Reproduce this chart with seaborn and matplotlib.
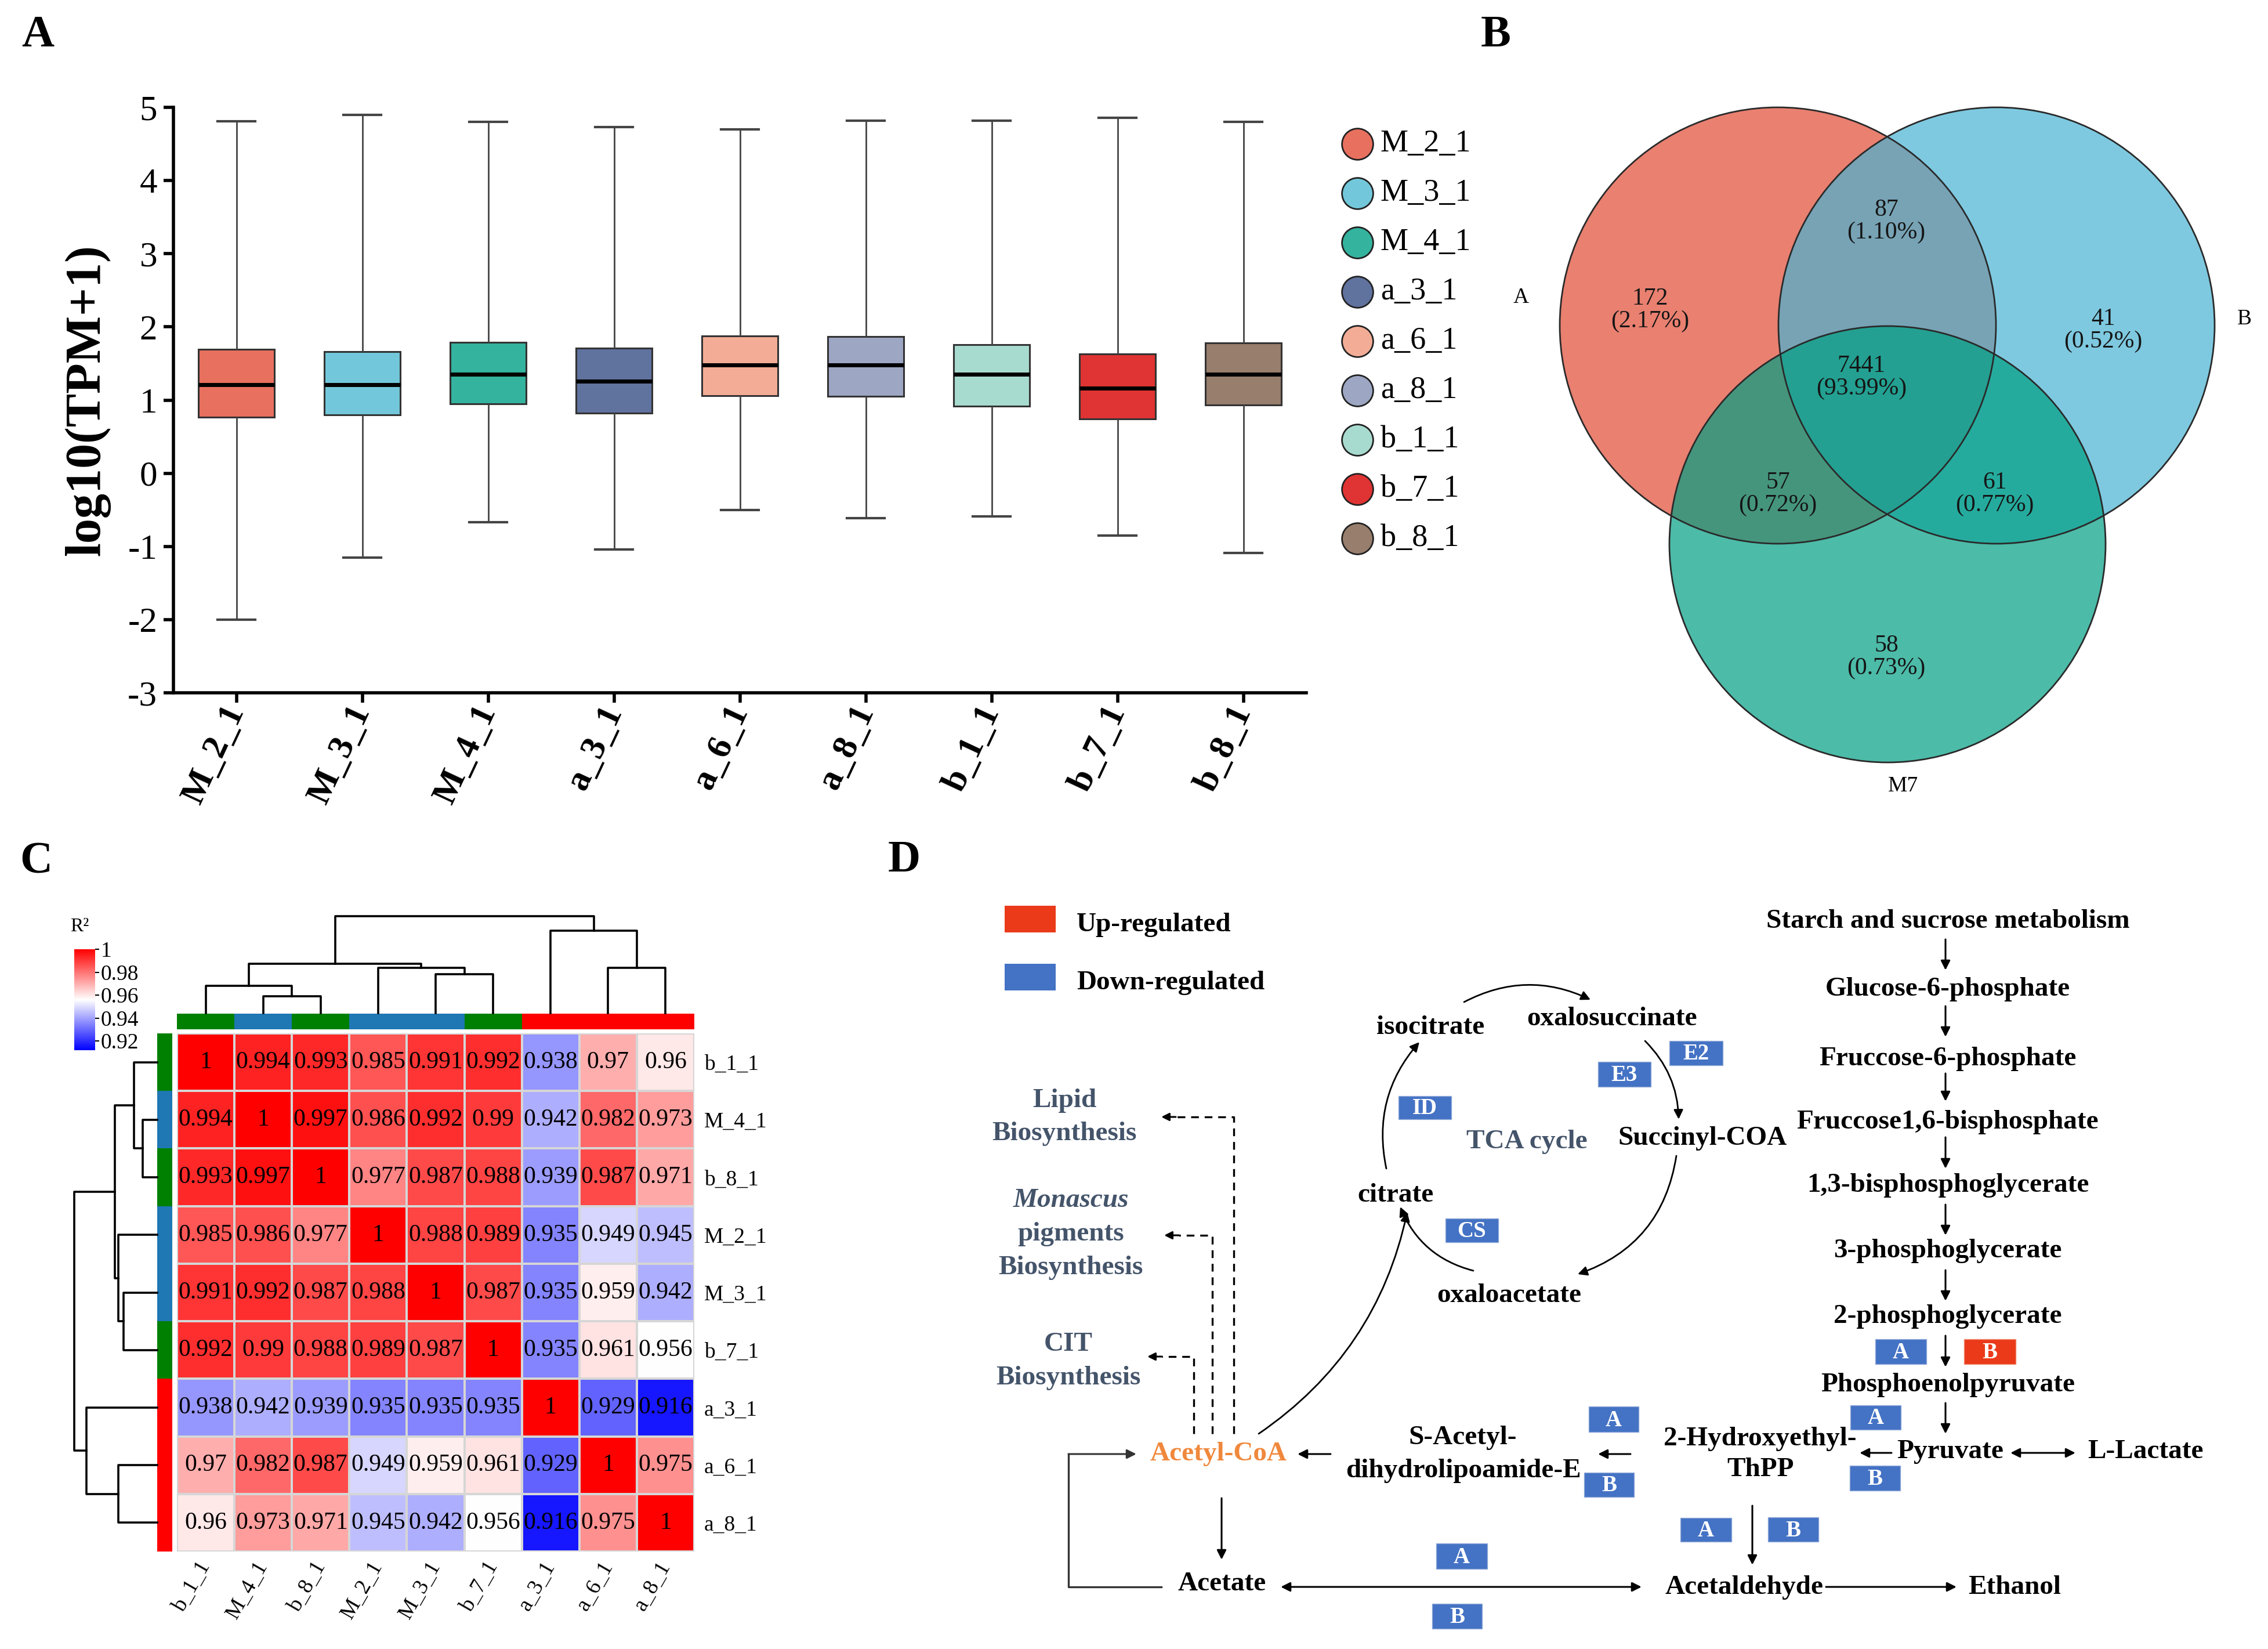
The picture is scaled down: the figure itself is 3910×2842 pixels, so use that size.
import numpy as np
import pandas as pd
import matplotlib
matplotlib.use('Agg')
import matplotlib.pyplot as plt
import seaborn as sns
from matplotlib.patches import Circle, Rectangle
from matplotlib.colors import LinearSegmentedColormap, ListedColormap, to_rgba

# ------------------------------------------------------------------ data
# Panel A : box summaries of log10(TPM+1)
samples = ['M_2_1', 'M_3_1', 'M_4_1', 'a_3_1', 'a_6_1', 'a_8_1', 'b_1_1', 'b_7_1', 'b_8_1']
box_min = [-2.00, -1.15, -0.67, -1.04, -0.50, -0.61, -0.59, -0.85, -1.09]
box_q1 = [0.77, 0.80, 0.95, 0.82, 1.06, 1.05, 0.92, 0.74, 0.93]
box_med = [1.21, 1.21, 1.35, 1.26, 1.48, 1.48, 1.35, 1.16, 1.35]
box_q3 = [1.69, 1.66, 1.79, 1.71, 1.88, 1.87, 1.76, 1.63, 1.78]
box_max = [4.81, 4.90, 4.80, 4.73, 4.70, 4.82, 4.82, 4.86, 4.80]
box_colors = ['#E8705E', '#72C8DA', '#34B39E', '#60729E', '#F3AD97',
              '#9DA7C4', '#A8DBCF', '#E03333', '#987E6C']

# Panel B : Venn counts
venn_sets = ['A', 'B', 'M7']
venn_regions = ['100', '110', '010', '111', '101', '011', '001']
venn_counts = [172, 87, 41, 7441, 57, 61, 58]
venn_colors = ['#E14A33', '#47B3D3', '#009F83']

# Panel C : R^2 correlation matrix (clustered order)
corr_order = ['b_1_1', 'M_4_1', 'b_8_1', 'M_2_1', 'M_3_1', 'b_7_1', 'a_3_1', 'a_6_1', 'a_8_1']
corr_group = ['b', 'M', 'b', 'M', 'M', 'b', 'a', 'a', 'a']
group_names = ['M', 'a', 'b']
group_colors = ['#1F77B4', '#FF0000', '#008000']
r2_values = [
    [1, 0.994, 0.993, 0.985, 0.991, 0.992, 0.938, 0.97, 0.96],
    [0.994, 1, 0.997, 0.986, 0.992, 0.99, 0.942, 0.982, 0.973],
    [0.993, 0.997, 1, 0.977, 0.987, 0.988, 0.939, 0.987, 0.971],
    [0.985, 0.986, 0.977, 1, 0.988, 0.989, 0.935, 0.949, 0.945],
    [0.991, 0.992, 0.987, 0.988, 1, 0.987, 0.935, 0.959, 0.942],
    [0.992, 0.99, 0.988, 0.989, 0.987, 1, 0.935, 0.961, 0.956],
    [0.938, 0.942, 0.939, 0.935, 0.935, 0.935, 1, 0.929, 0.916],
    [0.97, 0.982, 0.987, 0.949, 0.959, 0.961, 0.929, 1, 0.975],
    [0.96, 0.973, 0.971, 0.945, 0.942, 0.956, 0.916, 0.975, 1],
]
# linkage: (child_a, child_b, relative height); nodes >= 9 are earlier merges
linkage = [(1, 2, 0.176), (0, 9, 0.282), (4, 5, 0.404), (3, 11, 0.468),
           (10, 12, 0.511), (7, 8, 0.468), (6, 14, 0.851), (13, 15, 1.0)]
cbar_ticks = [0.92, 0.94, 0.96, 0.98, 1.0]
cbar_ticklabels = ['0.92', '0.94', '0.96', '0.98', '1']

# ------------------------------------------------------------------ setup
W, H, DPI = 3910, 2842, 100
plt.rcParams['font.family'] = ['Liberation Serif', 'DejaVu Serif']
plt.rcParams['axes.unicode_minus'] = False
fig = plt.figure(figsize=(W / DPI, H / DPI), dpi=DPI)


def add_ax(x0, y0, x1, y1):
    return fig.add_axes([x0 / W, 1 - y1 / H, (x1 - x0) / W, (y1 - y0) / H])


# ------------------------------------------------------------------ Panel A
axA = add_ax(299, 185, 2252, 1194)
rows = []
for s, a, b, c, d, e in zip(samples, box_min, box_q1, box_med, box_q3, box_max):
    for v in (a, b, c, d, e):
        rows.append((s, v))
dfA = pd.DataFrame(rows, columns=['sample', 'value'])
sns.boxplot(data=dfA, x='sample', y='value', hue='sample', order=samples,
            hue_order=samples, palette=box_colors, saturation=1, width=0.6,
            whis=(0, 100), linecolor='#333333', linewidth=2.2,
            medianprops=dict(color='black', linewidth=5),
            whiskerprops=dict(color='#444444', linewidth=2),
            capprops=dict(color='#444444', linewidth=3),
            legend=False, ax=axA)
axA.set_xlim(-0.5, 8.5)
axA.set_ylim(-3, 5)
axA.set_yticks(range(-3, 6))
axA.set_xlabel('')
axA.set_ylabel('log10(TPM+1)', fontsize=62, fontweight='bold')
axA.yaxis.set_label_coords(-(299 - 190) / 1953, 0.5)
for sp in ['top', 'right']:
    axA.spines[sp].set_visible(False)
for sp in ['left', 'bottom']:
    axA.spines[sp].set_linewidth(4)
axA.tick_params(axis='y', labelsize=44, width=4, length=12, pad=8)
axA.tick_params(axis='x', labelsize=44, width=4, length=12, pad=6)
for t in axA.get_xticklabels():
    t.set_rotation(65)
    t.set_ha('right')
    t.set_va('center')
    t.set_rotation_mode('anchor')
    t.set_fontweight('bold')

# ------------------------------------------------------------------ Panel C
df_r2 = pd.DataFrame(r2_values, index=corr_order, columns=corr_order)
cmap_r2 = LinearSegmentedColormap.from_list('r2', ['#0000FF', '#FFFFFF', '#FF0000'])
axH = add_ax(305, 1781, 1197, 2674)
axCB = add_ax(128, 1636, 164, 1810)
sns.heatmap(df_r2, ax=axH, cmap=cmap_r2, vmin=0.912, vmax=1.0, annot=True, fmt='g',
            annot_kws={'size': 30, 'color': 'black'}, linewidths=1.5,
            linecolor='#d6d6d6', cbar_ax=axCB, cbar_kws={'ticks': cbar_ticks})
cb = axH.collections[0].colorbar
cb.ax.set_yticklabels(cbar_ticklabels)
cb.outline.set_visible(False)
cb.ax.tick_params(labelsize=27, length=5, width=1.5, pad=2)
axH.yaxis.tick_right()
axH.set_yticklabels(corr_order, rotation=0)
axH.set_xticklabels(corr_order)
axH.tick_params(axis='both', length=0, labelsize=27)
axH.tick_params(axis='y', pad=12)
axH.tick_params(axis='x', pad=14)
for t in axH.get_xticklabels():
    t.set_rotation(60)
    t.set_ha('right')
    t.set_va('center')
    t.set_rotation_mode('anchor')
axH.set_xlabel('')
axH.set_ylabel('')

codes = [group_names.index(g) for g in corr_group]
gcmap = ListedColormap(group_colors)
axColBar = add_ax(305, 1747, 1197, 1774)
sns.heatmap(np.array([codes]), ax=axColBar, cmap=gcmap, vmin=-0.5, vmax=2.5,
            cbar=False, xticklabels=False, yticklabels=False)
axRowBar = add_ax(271, 1781, 297, 2674)
sns.heatmap(np.array(codes).reshape(-1, 1), ax=axRowBar, cmap=gcmap, vmin=-0.5,
            vmax=2.5, cbar=False, xticklabels=False, yticklabels=False)


def draw_dendro(ax, link, n, orient):
    pos = {i: i + 0.5 for i in range(n)}
    hgt = {i: 0.0 for i in range(n)}
    for k, (a, b, h) in enumerate(link):
        xs = [pos[a], pos[a], pos[b], pos[b]]
        ys = [hgt[a], h, h, hgt[b]]
        if orient == 'top':
            ax.plot(xs, ys, color='black', lw=2.6, clip_on=False)
        else:
            ax.plot(ys, xs, color='black', lw=2.6, clip_on=False)
        pos[n + k] = (pos[a] + pos[b]) / 2
        hgt[n + k] = h


axDT = add_ax(305, 1579, 1197, 1746)
draw_dendro(axDT, linkage, len(corr_order), 'top')
axDT.set_xlim(0, 9)
axDT.set_ylim(0, 1)
axDT.axis('off')
axDL = add_ax(128, 1781, 271, 2674)
draw_dendro(axDL, linkage, len(corr_order), 'left')
axDL.set_xlim(1, 0)
axDL.set_ylim(9, 0)
axDL.axis('off')

# ------------------------------------------------------------------ overlay
ov = fig.add_axes([0, 0, 1, 1])
ov.set_xlim(0, W)
ov.set_ylim(H, 0)
ov.axis('off')

# panel letters
for lab, (x, y) in zip(['A', 'B', 'C', 'D'], [(65, 62), (2579, 62), (62, 1486), (1559, 1484)]):
    ov.text(x, y, lab, fontsize=56, fontweight='bold', ha='center', va='center')

# legend of panel A
for i, (s, c) in enumerate(zip(samples, box_colors)):
    yy = 248 + 85 * i
    ov.scatter([2340], [yy], s=1500, color=c, edgecolor='#222222', linewidth=2, zorder=3)
    ov.text(2380, yy, s, fontsize=39, ha='left', va='center')

ov.text(137, 1597, 'R²', fontsize=24, ha='center', va='center')

# ------------------------------------------------------------------ Panel B (Venn)
venn_centers = [(3065, 561), (3442, 561), (3254, 938)]
venn_r = 376
for (cx, cy), c in zip(venn_centers, venn_colors):
    ov.add_patch(Circle((cx, cy), venn_r, facecolor=to_rgba(c, 0.7), edgecolor='none'))
for (cx, cy) in venn_centers:
    ov.add_patch(Circle((cx, cy), venn_r, facecolor='none', edgecolor='#2a2a2a', lw=2))
region_pos = {'100': (2845, 534), '110': (3252, 381), '010': (3626, 569),
              '111': (3209, 650), '101': (3065, 851), '011': (3439, 851),
              '001': (3252, 1132)}
total = sum(venn_counts)
for reg, cnt in zip(venn_regions, venn_counts):
    x, y = region_pos[reg]
    ov.text(x, y, f'{cnt}\n({100 * cnt / total:.2f}%)', fontsize=30, ha='center',
            va='center', linespacing=1.0, color='#151515')
for lab, (x, y) in zip(venn_sets, [(2622, 513), (3869, 550), (3281, 1355)]):
    ov.text(x, y, lab, fontsize=27, ha='center', va='center')

# ------------------------------------------------------------------ Panel D
BLUE = '#4472C4'
REDB = '#EA3A1A'
SLATE = '#44546A'
ORANGE = '#F0883C'
FS = 34


def txt(x, y, s, color='black', style='normal', size=FS):
    ov.text(x, y, s, fontsize=size, fontweight='bold', ha='center', va='center',
            color=color, fontstyle=style)


def box(x0, y0, x1, y1, s, color=BLUE):
    ov.add_patch(Rectangle((x0, y0), x1 - x0, y1 - y0, facecolor=color,
                           edgecolor='#8fa9d8' if color == BLUE else '#f08a70', lw=1))
    ov.text((x0 + x1) / 2, (y0 + y1) / 2 + 2, s, fontsize=28, fontweight='bold',
            color='white', ha='center', va='center')


def arrow(p0, p1, style='-|>', rad=0.0, lw=2.2, color='black', ms=24):
    ov.annotate('', xy=p1, xytext=p0,
                arrowprops=dict(arrowstyle=style, color=color, lw=lw, mutation_scale=ms,
                                shrinkA=0, shrinkB=0,
                                connectionstyle=f'arc3,rad={rad}'))


# legend
ov.add_patch(Rectangle((1732, 1561), 88, 46, facecolor=REDB, edgecolor='none'))
ov.add_patch(Rectangle((1732, 1661), 88, 46, facecolor=BLUE, edgecolor='none'))
ov.text(1856, 1594, 'Up-regulated', fontsize=FS, fontweight='bold', ha='left', va='center')
ov.text(1856, 1694, 'Down-regulated', fontsize=FS, fontweight='bold', ha='left', va='center')

# glycolysis column
gly = [('Starch and sucrose metabolism', 1588), ('Glucose-6-phosphate', 1705),
       ('Fruccose-6-phosphate', 1825), ('Fruccose1,6-bisphosphate', 1934),
       ('1,3-bisphosphoglycerate', 2043), ('3-phosphoglycerate', 2156),
       ('2-phosphoglycerate', 2269), ('Phosphoenolpyruvate', 2387)]
for s, y in gly:
    txt(3358, y, s)
for y0, y1 in [(1619, 1672), (1734, 1787), (1850, 1898), (1960, 2014), (2076, 2129),
               (2189, 2242), (2302, 2356), (2418, 2471)]:
    arrow((3354, y0), (3354, y1))
box(3233, 2308, 3321, 2351, 'A')
box(3386, 2308, 3475, 2351, 'B', REDB)
box(3190, 2422, 3277, 2464, 'A')

txt(3362, 2502, 'Pyruvate')
txt(3699, 2502, 'L-Lactate')
arrow((3466, 2504), (3578, 2504), style='<|-|>')
arrow((3261, 2504), (3206, 2504))
box(3189, 2526, 3276, 2569, 'B')

txt(3034, 2480, '2-Hydroxyethyl-')
txt(3035, 2533, 'ThPP')
arrow((3021, 2595), (3021, 2697))
box(2897, 2616, 2985, 2657, 'A')
box(3048, 2615, 3135, 2657, 'B')
txt(3007, 2736, 'Acetaldehyde')
txt(3473, 2736, 'Ethanol')
arrow((3148, 2735), (3373, 2735))

arrow((2811, 2506), (2755, 2506))
box(2739, 2424, 2825, 2468, 'A')
box(2731, 2538, 2817, 2580, 'B')
txt(2522, 2478, 'S-Acetyl-')
txt(2523, 2535, 'dihydrolipoamide-E')
arrow((2294, 2506), (2237, 2506))
txt(2101, 2506, 'Acetyl-CoA', color=ORANGE)
arrow((2106, 2582), (2106, 2688))
txt(2107, 2730, 'Acetate')
arrow((2208, 2735), (2830, 2735), style='<|-|>')
box(2476, 2660, 2564, 2704, 'A')
box(2469, 2764, 2555, 2807, 'B')
# feedback Acetate -> Acetyl-CoA
ov.plot([2002, 1842, 1842], [2735, 2735, 2506], color='#333333', lw=2.4)
arrow((1842, 2506), (1959, 2506), color='#333333')

# TCA cycle
txt(2466, 1771, 'isocitrate')
txt(2779, 1756, 'oxalosuccinate')
txt(2935, 1962, 'Succinyl-COA')
txt(2632, 1968, 'TCA cycle', color=SLATE)
txt(2406, 2060, 'citrate')
txt(2602, 2233, 'oxaloacetate')
arrow((2524, 1727), (2742, 1723), rad=-0.25, lw=2)
arrow((2836, 1794), (2894, 1929), rad=-0.2, lw=2)
arrow((2890, 1992), (2720, 2196), rad=-0.3, lw=2)
arrow((2540, 2190), (2414, 2080), rad=-0.25, lw=2)
arrow((2390, 2014), (2447, 1796), rad=-0.25, lw=2)
arrow((2170, 2471), (2426, 2089), rad=0.2, lw=2)
box(2878, 1794, 2970, 1836, 'E2')
box(2755, 1830, 2846, 1873, 'E3')
box(2411, 1889, 2502, 1929, 'ID')
box(2492, 2100, 2583, 2141, 'CS')

# side biosynthesis branches
txt(1835, 1897, 'Lipid', color=SLATE)
txt(1835, 1954, 'Biosynthesis', color=SLATE)
txt(1846, 2069, 'Monascus', color=SLATE, style='italic')
txt(1846, 2127, 'pigments', color=SLATE)
txt(1846, 2185, 'Biosynthesis', color=SLATE)
txt(1842, 2317, 'CIT', color=SLATE)
txt(1842, 2375, 'Biosynthesis', color=SLATE)
for xv, yt, xe in [(2127, 1925, 2002), (2090, 2129, 2007), (2058, 2338, 1978)]:
    ov.plot([xv, xv, xe + 25], [2471, yt, yt], color='black', lw=2.4, ls=(0, (4, 3)))
    arrow((xe + 25, yt), (xe, yt), ms=20)

fig.savefig('out.png', dpi=DPI)
